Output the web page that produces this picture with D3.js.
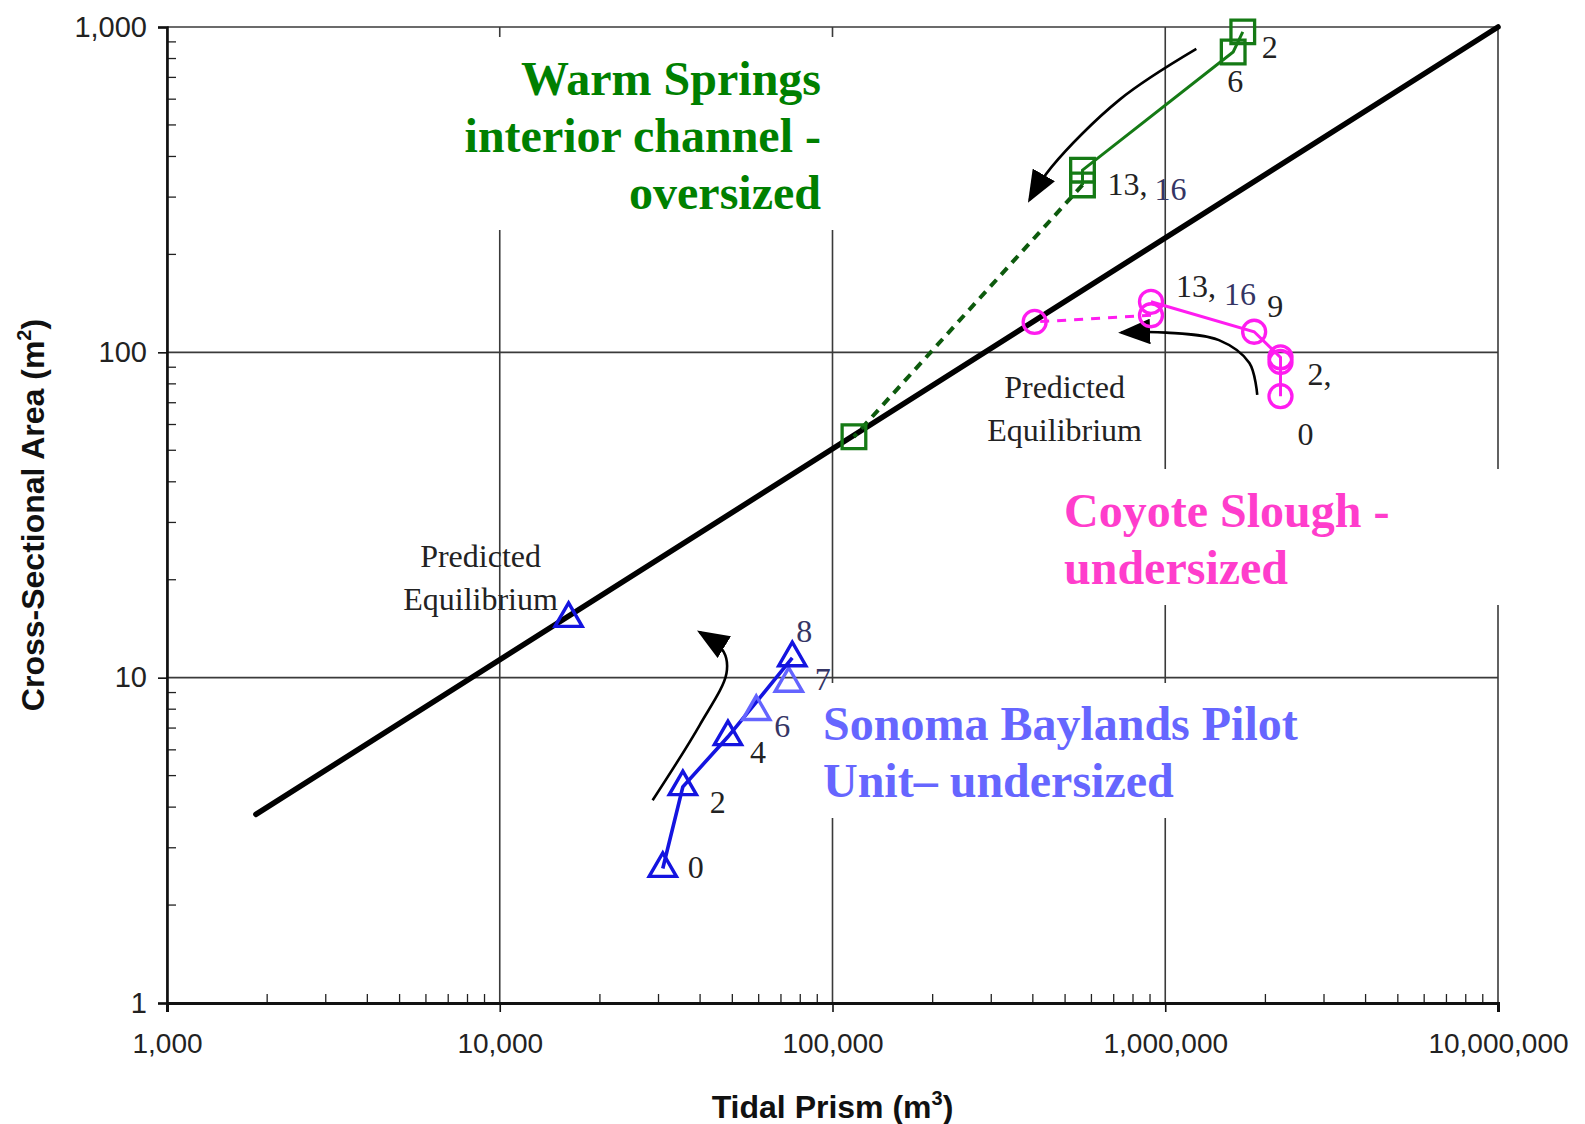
<!DOCTYPE html>
<html>
<head>
<meta charset="utf-8">
<script src="https://d3js.org/d3.v7.min.js"></script>
<style>
  body { margin: 0; background: #fff; }
  svg { display: block; }
  .tick text { font-family: "Liberation Sans", Arial, sans-serif; font-size: 28px; fill: #222; }
</style>
</head>
<body>
<svg id="chart" width="1585" height="1124"></svg>
<script>

// Axis ticks
var xTickValues = [1000, 10000, 100000, 1000000, 10000000];
var xTickLabels = ["1,000", "10,000", "100,000", "1,000,000", "10,000,000"];
var yTickValues = [1, 10, 100, 1000];
var yTickLabels = ["1", "10", "100", "1,000"];

// Equilibrium relationship (black line)
var fitPrism = [1850, 10000000];
var fitArea = [3.8, 1000];

// Warm Springs interior channel
var wsYears = ["2", "6", "13", "16"];
var wsPrism = [1710000, 1600000, 564000, 564000];
var wsArea = [966, 838, 363, 327];
var wsEquilibrium = [116000, 55];

// Coyote Slough
var csYears = ["0", "2", "4", "9", "13", "16"];
var csPrism = [2220000, 2220000, 2220000, 1850000, 906000, 906000];
var csArea = [73.3, 93.4, 96.5, 115.7, 143, 130];
var csEquilibrium = [405000, 124];

// Sonoma Baylands Pilot Unit
var sbYears = ["0", "2", "4", "6", "7", "8"];
var sbPrism = [30900, 35500, 48500, 59000, 73900, 75700];
var sbArea = [2.59, 4.62, 6.58, 7.86, 9.6, 11.5];
var sbTone = ["dark", "dark", "dark", "light", "light", "dark"];
var sbEquilibrium = [16100, 15.2];

// Trend arrows (prism, area)
var wsArrow = [[1240000, 856], [728000, 597], [455000, 371], [391000, 294]];
var csArrow = [[1890000, 74], [1790000, 92.7], [1450000, 109], [1007000, 115], [738000, 115]];
var sbArrow = [[28800, 4.2], [39900, 7.15], [48000, 10.3], [47100, 12.0], [39900, 13.8]];

var W = 1585, H = 1124;
var margin = { top: 27, right: 87, bottom: 121, left: 167 };

var svg = d3.select("#chart");

var x = d3.scaleLog().domain([1000, 10000000]).range([margin.left, W - margin.right]);
var y = d3.scaleLog().domain([1, 1000]).range([H - margin.bottom, margin.top]);

var serif = "'Liberation Serif', 'Times New Roman', serif";
var sans = "'Liberation Sans', Arial, sans-serif";

var green = "#157a15", greenDash = "#0d5a0d";
var magenta = "#ff1cf0";
var blueDark = "#1414e0", blueLight = "#6464ff";
var navy = "#353565";

function Zip(xs, ys) {
  return xs.map(function(v, i) { return [v, ys[i]]; });
}

// Grid lines at every decade
svg.append("g").selectAll("line.vgrid")
  .data(xTickValues).enter().append("line")
  .attr("x1", function(d) { return x(d); }).attr("x2", function(d) { return x(d); })
  .attr("y1", y(1)).attr("y2", y(1000))
  .attr("stroke", "#3a3a3a").attr("stroke-width", 1.6);

svg.append("g").selectAll("line.hgrid")
  .data(yTickValues).enter().append("line")
  .attr("x1", x(1000)).attr("x2", x(10000000))
  .attr("y1", function(d) { return y(d); }).attr("y2", function(d) { return y(d); })
  .attr("stroke", "#3a3a3a").attr("stroke-width", 1.6);

// Minor ticks, inside the plot
var xMinor = x.ticks().filter(function(d) { return xTickValues.indexOf(d) < 0; });
var yMinor = y.ticks().filter(function(d) { return yTickValues.indexOf(d) < 0; });

svg.append("g").selectAll("line")
  .data(xMinor).enter().append("line")
  .attr("x1", function(d) { return x(d); }).attr("x2", function(d) { return x(d); })
  .attr("y1", y(1)).attr("y2", y(1) - 9)
  .attr("stroke", "#222").attr("stroke-width", 1.3);

svg.append("g").selectAll("line")
  .data(yMinor).enter().append("line")
  .attr("x1", x(1000)).attr("x2", x(1000) + 9)
  .attr("y1", function(d) { return y(d); }).attr("y2", function(d) { return y(d); })
  .attr("stroke", "#222").attr("stroke-width", 1.3);

// Axes
var xAxis = svg.append("g")
  .attr("transform", "translate(0," + y(1) + ")")
  .call(d3.axisBottom(x).tickValues(xTickValues)
    .tickFormat(function(d, i) { return xTickLabels[i]; })
    .tickSize(9).tickPadding(21));
xAxis.select(".domain").attr("stroke", "#111").attr("stroke-width", 3);
xAxis.selectAll(".tick line").attr("stroke", "#111").attr("stroke-width", 1.6);

var yAxis = svg.append("g")
  .attr("transform", "translate(" + x(1000) + ",0)")
  .call(d3.axisLeft(y).tickValues(yTickValues)
    .tickFormat(function(d, i) { return yTickLabels[i]; })
    .tickSize(9).tickPadding(11));
yAxis.select(".domain").attr("stroke", "#111").attr("stroke-width", 2.6);
yAxis.selectAll(".tick line").attr("stroke", "#111").attr("stroke-width", 1.6);
yAxis.selectAll(".tick text").style("font-size", "29px");

// Axis titles
var xTitle = svg.append("text")
  .attr("x", (x(1000) + x(10000000)) / 2).attr("y", 1118)
  .attr("text-anchor", "middle")
  .style("font-family", sans).style("font-size", "32px").style("font-weight", "bold")
  .attr("fill", "#111");
xTitle.append("tspan").text("Tidal Prism (m");
xTitle.append("tspan").attr("dy", -13).style("font-size", "20px").text("3");
xTitle.append("tspan").attr("dy", 13).text(")");

var yTitle = svg.append("text")
  .attr("transform", "translate(44,515) rotate(-90)")
  .attr("text-anchor", "middle")
  .style("font-family", sans).style("font-size", "32px").style("font-weight", "bold")
  .attr("fill", "#111");
yTitle.append("tspan").text("Cross-Sectional Area (m");
yTitle.append("tspan").attr("dy", -13).style("font-size", "20px").text("2");
yTitle.append("tspan").attr("dy", 13).text(")");

// White boxes behind the big labels
var boxes = [
  { x: 455, y: 37, w: 385, h: 193 },
  { x: 1045, y: 469, w: 470, h: 136 },
  { x: 815, y: 683, w: 485, h: 135 }
];
svg.append("g").selectAll("rect")
  .data(boxes).enter().append("rect")
  .attr("x", function(d) { return d.x; }).attr("y", function(d) { return d.y; })
  .attr("width", function(d) { return d.w; }).attr("height", function(d) { return d.h; })
  .attr("fill", "#fff");

// Big labels
function BigLabel(lines, px, py, anchor, color) {
  var t = svg.append("text")
    .attr("text-anchor", anchor)
    .style("font-family", serif).style("font-size", "48px").style("font-weight", "bold")
    .attr("fill", color);
  lines.forEach(function(s, i) {
    t.append("tspan").attr("x", px).attr("y", py + i * 57).text(s);
  });
}
BigLabel(["Warm Springs", "interior channel -", "oversized"], 821, 95, "end", "#008000");
BigLabel(["Coyote Slough -", "undersized"], 1064, 527, "start", "#ff3dcc");
BigLabel(["Sonoma Baylands Pilot", "Unit\u2013 undersized"], 823, 740, "start", "#6666ff");

// Equilibrium line
var line = d3.line()
  .x(function(d) { return x(d[0]); })
  .y(function(d) { return y(d[1]); });

svg.append("path")
  .datum(Zip(fitPrism, fitArea))
  .attr("d", line)
  .attr("fill", "none").attr("stroke", "#000").attr("stroke-width", 5.5)
  .attr("stroke-linecap", "round");

// Predicted equilibrium notes
function Note(px, py) {
  var t = svg.append("text")
    .attr("text-anchor", "middle")
    .style("font-family", serif).style("font-size", "32px")
    .attr("fill", "#222");
  t.append("tspan").attr("x", px).attr("y", py).text("Predicted");
  t.append("tspan").attr("x", px).attr("y", py + 43).text("Equilibrium");
}
Note(x(sbEquilibrium[0]) - 88, y(sbEquilibrium[1]) - 52);
Note(x(csEquilibrium[0]) + 30, y(csEquilibrium[1]) + 76);

// Arrowhead
svg.append("defs").append("marker")
  .attr("id", "head")
  .attr("viewBox", "0 0 20 16")
  .attr("refX", 18).attr("refY", 8)
  .attr("markerWidth", 32).attr("markerHeight", 26)
  .attr("markerUnits", "userSpaceOnUse")
  .attr("orient", "auto")
  .append("path")
  .attr("d", "M0,0 L20,8 L0,16 Z")
  .attr("fill", "#000");

var curve = d3.line()
  .x(function(d) { return x(d[0]); })
  .y(function(d) { return y(d[1]); })
  .curve(d3.curveCatmullRom);

[wsArrow, csArrow, sbArrow].forEach(function(a) {
  svg.append("path")
    .datum(a)
    .attr("d", curve)
    .attr("fill", "none").attr("stroke", "#000").attr("stroke-width", 2.6)
    .attr("marker-end", "url(#head)");
});

// Warm Springs series
var ws = Zip(wsPrism, wsArea);
svg.append("path")
  .datum([ws[3], wsEquilibrium])
  .attr("d", line)
  .attr("fill", "none").attr("stroke", greenDash).attr("stroke-width", 4)
  .attr("stroke-dasharray", "9,7");
svg.append("path")
  .datum(ws)
  .attr("d", line)
  .attr("fill", "none").attr("stroke", green).attr("stroke-width", 3);

svg.append("g").selectAll("path")
  .data(ws.concat([wsEquilibrium])).enter().append("path")
  .attr("d", d3.symbol(d3.symbolSquare, 560))
  .attr("transform", function(d) { return "translate(" + x(d[0]) + "," + y(d[1]) + ")"; })
  .attr("fill", "none").attr("stroke", green).attr("stroke-width", 3.3);

// Coyote Slough series
var cs = Zip(csPrism, csArea);
svg.append("path")
  .datum([cs[5], csEquilibrium])
  .attr("d", line)
  .attr("fill", "none").attr("stroke", magenta).attr("stroke-width", 3)
  .attr("stroke-dasharray", "9,8");
svg.append("path")
  .datum(cs.slice(0, 5))
  .attr("d", line)
  .attr("fill", "none").attr("stroke", magenta).attr("stroke-width", 3);

svg.append("g").selectAll("circle")
  .data(cs.concat([csEquilibrium])).enter().append("circle")
  .attr("cx", function(d) { return x(d[0]); })
  .attr("cy", function(d) { return y(d[1]); })
  .attr("r", 11.5)
  .attr("fill", "none").attr("stroke", magenta).attr("stroke-width", 3.3);

// Sonoma Baylands series
var sb = Zip(sbPrism, sbArea);
svg.append("path")
  .datum(sb.filter(function(d, i) { return sbTone[i] === "dark"; }))
  .attr("d", line)
  .attr("fill", "none").attr("stroke", blueDark).attr("stroke-width", 3.6);

svg.append("g").selectAll("path")
  .data(sb).enter().append("path")
  .attr("d", d3.symbol(d3.symbolTriangle, 320))
  .attr("transform", function(d) { return "translate(" + x(d[0]) + "," + y(d[1]) + ")"; })
  .attr("fill", "none")
  .attr("stroke", function(d, i) { return sbTone[i] === "dark" ? blueDark : blueLight; })
  .attr("stroke-width", 3.4);

svg.append("path")
  .attr("d", d3.symbol(d3.symbolTriangle, 320))
  .attr("transform", "translate(" + x(sbEquilibrium[0]) + "," + y(sbEquilibrium[1]) + ")")
  .attr("fill", "none").attr("stroke", blueDark).attr("stroke-width", 3.4);

// Year labels: offsets from the marker, colour per label
function YearLabels(points, texts, offsets, colors) {
  svg.append("g").selectAll("text")
    .data(points).enter().append("text")
    .filter(function(d, i) { return texts[i] !== ""; })
    .attr("x", function(d) { var i = points.indexOf(d); return x(d[0]) + offsets[i][0]; })
    .attr("y", function(d) { var i = points.indexOf(d); return y(d[1]) + offsets[i][1]; })
    .style("font-family", serif).style("font-size", "32px")
    .attr("fill", function(d) { return colors[points.indexOf(d)]; })
    .text(function(d) { return texts[points.indexOf(d)]; });
}

YearLabels(ws, ["2", "6", "13,", "16"],
  [[19, 26], [-6, 40], [25, 25], [72, 15]],
  ["#222", "#222", "#222", navy]);

YearLabels(cs, ["0", "2,", "", "9", "13,", "16"],
  [[17, 49], [27, 23], [0, 0], [13, -15], [25, -5], [73, -10]],
  ["#222", "#222", "#222", "#222", "#222", navy]);

YearLabels(sb, sbYears,
  [[25, 9], [27, 26], [22, 26], [18, 25], [26, 7], [4, -16]],
  ["#222", "#222", "#222", navy, navy, navy]);

</script>
</body>
</html>
